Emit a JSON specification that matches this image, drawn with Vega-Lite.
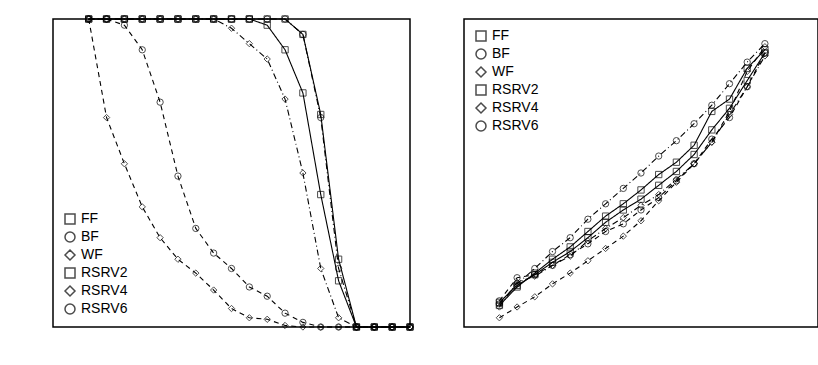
{
  "$schema": "https://vega.github.io/schema/vega-lite/v6.json",
  "padding": {"left": 52, "top": 13, "right": 0, "bottom": 45},
  "bounds": "flush",
  "spacing": 54,
  "config": {
    "view": {"stroke": "black", "strokeWidth": 1.5},
    "axis": {"grid": false, "domain": false, "labelFontSize": 14, "titleFontSize": 14, "titleFontWeight": "normal"},
    "legend": {"labelFontSize": 14}
  },
  "datasets": {
    "feas": [
      {"s":"FF","u":0.8,"v":1},{"s":"FF","u":1.2,"v":1},{"s":"FF","u":1.6,"v":1},{"s":"FF","u":2.0,"v":1},{"s":"FF","u":2.4,"v":1},{"s":"FF","u":2.8,"v":1},{"s":"FF","u":3.2,"v":1},{"s":"FF","u":3.6,"v":1},{"s":"FF","u":4.0,"v":1},{"s":"FF","u":4.4,"v":1},{"s":"FF","u":4.8,"v":1},{"s":"FF","u":5.2,"v":1},{"s":"FF","u":5.6,"v":0.95},{"s":"FF","u":6.0,"v":0.69},{"s":"FF","u":6.4,"v":0.22},{"s":"FF","u":6.8,"v":0},{"s":"FF","u":7.2,"v":0},{"s":"FF","u":7.6,"v":0},{"s":"FF","u":8.0,"v":0},
      {"s":"BF","u":0.8,"v":1},{"s":"BF","u":1.2,"v":1},{"s":"BF","u":1.6,"v":1},{"s":"BF","u":2.0,"v":1},{"s":"BF","u":2.4,"v":1},{"s":"BF","u":2.8,"v":1},{"s":"BF","u":3.2,"v":1},{"s":"BF","u":3.6,"v":1},{"s":"BF","u":4.0,"v":1},{"s":"BF","u":4.4,"v":1},{"s":"BF","u":4.8,"v":1},{"s":"BF","u":5.2,"v":1},{"s":"BF","u":5.6,"v":0.95},{"s":"BF","u":6.0,"v":0.68},{"s":"BF","u":6.4,"v":0.19},{"s":"BF","u":6.8,"v":0},{"s":"BF","u":7.2,"v":0},{"s":"BF","u":7.6,"v":0},{"s":"BF","u":8.0,"v":0},
      {"s":"WF","u":0.8,"v":1},{"s":"WF","u":1.2,"v":0.68},{"s":"WF","u":1.6,"v":0.53},{"s":"WF","u":2.0,"v":0.39},{"s":"WF","u":2.4,"v":0.29},{"s":"WF","u":2.8,"v":0.22},{"s":"WF","u":3.2,"v":0.175},{"s":"WF","u":3.6,"v":0.12},{"s":"WF","u":4.0,"v":0.06},{"s":"WF","u":4.4,"v":0.03},{"s":"WF","u":4.8,"v":0.025},{"s":"WF","u":5.2,"v":0.005},{"s":"WF","u":5.6,"v":0},{"s":"WF","u":6.0,"v":0},{"s":"WF","u":6.4,"v":0},{"s":"WF","u":6.8,"v":0},{"s":"WF","u":7.2,"v":0},{"s":"WF","u":7.6,"v":0},{"s":"WF","u":8.0,"v":0},
      {"s":"RSRV2","u":0.8,"v":1},{"s":"RSRV2","u":1.2,"v":1},{"s":"RSRV2","u":1.6,"v":1},{"s":"RSRV2","u":2.0,"v":1},{"s":"RSRV2","u":2.4,"v":1},{"s":"RSRV2","u":2.8,"v":1},{"s":"RSRV2","u":3.2,"v":1},{"s":"RSRV2","u":3.6,"v":1},{"s":"RSRV2","u":4.0,"v":1},{"s":"RSRV2","u":4.4,"v":1},{"s":"RSRV2","u":4.8,"v":0.98},{"s":"RSRV2","u":5.2,"v":0.9},{"s":"RSRV2","u":5.6,"v":0.76},{"s":"RSRV2","u":6.0,"v":0.43},{"s":"RSRV2","u":6.4,"v":0.15},{"s":"RSRV2","u":6.8,"v":0},{"s":"RSRV2","u":7.2,"v":0},{"s":"RSRV2","u":7.6,"v":0},{"s":"RSRV2","u":8.0,"v":0},
      {"s":"RSRV4","u":0.8,"v":1},{"s":"RSRV4","u":1.2,"v":1},{"s":"RSRV4","u":1.6,"v":1},{"s":"RSRV4","u":2.0,"v":1},{"s":"RSRV4","u":2.4,"v":1},{"s":"RSRV4","u":2.8,"v":1},{"s":"RSRV4","u":3.2,"v":1},{"s":"RSRV4","u":3.6,"v":1},{"s":"RSRV4","u":4.0,"v":0.97},{"s":"RSRV4","u":4.4,"v":0.92},{"s":"RSRV4","u":4.8,"v":0.87},{"s":"RSRV4","u":5.2,"v":0.74},{"s":"RSRV4","u":5.6,"v":0.5},{"s":"RSRV4","u":6.0,"v":0.19},{"s":"RSRV4","u":6.4,"v":0.03},{"s":"RSRV4","u":6.8,"v":0},{"s":"RSRV4","u":7.2,"v":0},{"s":"RSRV4","u":7.6,"v":0},{"s":"RSRV4","u":8.0,"v":0},
      {"s":"RSRV6","u":0.8,"v":1},{"s":"RSRV6","u":1.2,"v":1},{"s":"RSRV6","u":1.6,"v":0.98},{"s":"RSRV6","u":2.0,"v":0.9},{"s":"RSRV6","u":2.4,"v":0.73},{"s":"RSRV6","u":2.8,"v":0.49},{"s":"RSRV6","u":3.2,"v":0.32},{"s":"RSRV6","u":3.6,"v":0.24},{"s":"RSRV6","u":4.0,"v":0.19},{"s":"RSRV6","u":4.4,"v":0.13},{"s":"RSRV6","u":4.8,"v":0.1},{"s":"RSRV6","u":5.2,"v":0.045},{"s":"RSRV6","u":5.6,"v":0.015},{"s":"RSRV6","u":6.0,"v":0},{"s":"RSRV6","u":6.4,"v":0},{"s":"RSRV6","u":6.8,"v":0},{"s":"RSRV6","u":7.2,"v":0},{"s":"RSRV6","u":7.6,"v":0},{"s":"RSRV6","u":8.0,"v":0}
    ],
    "energy": [
      {"s":"BF","u":0.8,"v":0.75},{"s":"BF","u":1.2,"v":1.4},{"s":"BF","u":1.6,"v":1.9},{"s":"BF","u":2.0,"v":2.45},{"s":"BF","u":2.4,"v":2.9},{"s":"BF","u":2.8,"v":3.5},{"s":"BF","u":3.2,"v":4.0},{"s":"BF","u":3.6,"v":4.5},{"s":"BF","u":4.0,"v":5.0},{"s":"BF","u":4.4,"v":5.55},{"s":"BF","u":4.8,"v":6.05},{"s":"BF","u":5.2,"v":6.6},{"s":"BF","u":5.6,"v":7.2},{"s":"BF","u":6.0,"v":7.9},{"s":"BF","u":6.4,"v":8.6},{"s":"BF","u":6.8,"v":9.2},
      {"s":"FF","u":0.8,"v":0.7},{"s":"FF","u":1.2,"v":1.3},{"s":"FF","u":1.6,"v":1.75},{"s":"FF","u":2.0,"v":2.2},{"s":"FF","u":2.4,"v":2.6},{"s":"FF","u":2.8,"v":3.1},{"s":"FF","u":3.2,"v":3.6},{"s":"FF","u":3.6,"v":4.0},{"s":"FF","u":4.0,"v":4.45},{"s":"FF","u":4.4,"v":4.95},{"s":"FF","u":4.8,"v":5.35},{"s":"FF","u":5.2,"v":5.9},{"s":"FF","u":5.6,"v":7.0},{"s":"FF","u":6.0,"v":7.4},{"s":"FF","u":6.4,"v":8.4},{"s":"FF","u":6.8,"v":9.0},
      {"s":"RSRV2","u":0.8,"v":0.8},{"s":"RSRV2","u":1.2,"v":1.35},{"s":"RSRV2","u":1.6,"v":1.7},{"s":"RSRV2","u":2.0,"v":2.1},{"s":"RSRV2","u":2.4,"v":2.45},{"s":"RSRV2","u":2.8,"v":2.9},{"s":"RSRV2","u":3.2,"v":3.4},{"s":"RSRV2","u":3.6,"v":3.8},{"s":"RSRV2","u":4.0,"v":4.15},{"s":"RSRV2","u":4.4,"v":4.6},{"s":"RSRV2","u":4.8,"v":5.05},{"s":"RSRV2","u":5.2,"v":5.6},{"s":"RSRV2","u":5.6,"v":6.4},{"s":"RSRV2","u":6.0,"v":7.1},{"s":"RSRV2","u":6.4,"v":8.0},{"s":"RSRV2","u":6.8,"v":8.9},
      {"s":"RSRV4","u":0.8,"v":0.65},{"s":"RSRV4","u":1.2,"v":1.45},{"s":"RSRV4","u":1.6,"v":1.65},{"s":"RSRV4","u":2.0,"v":2.0},{"s":"RSRV4","u":2.4,"v":2.3},{"s":"RSRV4","u":2.8,"v":2.8},{"s":"RSRV4","u":3.2,"v":3.2},{"s":"RSRV4","u":3.6,"v":3.55},{"s":"RSRV4","u":4.0,"v":3.95},{"s":"RSRV4","u":4.4,"v":4.3},{"s":"RSRV4","u":4.8,"v":4.8},{"s":"RSRV4","u":5.2,"v":5.3},{"s":"RSRV4","u":5.6,"v":6.0},{"s":"RSRV4","u":6.0,"v":6.9},{"s":"RSRV4","u":6.4,"v":7.8},{"s":"RSRV4","u":6.8,"v":8.8},
      {"s":"RSRV6","u":0.8,"v":0.85},{"s":"RSRV6","u":1.2,"v":1.6},{"s":"RSRV6","u":1.6,"v":1.7},{"s":"RSRV6","u":2.0,"v":2.0},{"s":"RSRV6","u":2.4,"v":2.35},{"s":"RSRV6","u":2.8,"v":2.7},{"s":"RSRV6","u":3.2,"v":3.1},{"s":"RSRV6","u":3.6,"v":3.35},{"s":"RSRV6","u":4.0,"v":3.8},{"s":"RSRV6","u":4.4,"v":4.2},{"s":"RSRV6","u":4.8,"v":4.75},{"s":"RSRV6","u":5.2,"v":5.3},{"s":"RSRV6","u":5.6,"v":6.1},{"s":"RSRV6","u":6.0,"v":6.8},{"s":"RSRV6","u":6.4,"v":7.8},{"s":"RSRV6","u":6.8,"v":8.9},
      {"s":"WF","u":0.8,"v":0.3},{"s":"WF","u":1.2,"v":0.65},{"s":"WF","u":1.6,"v":0.98},{"s":"WF","u":2.0,"v":1.4},{"s":"WF","u":2.4,"v":1.75},{"s":"WF","u":2.8,"v":2.15},{"s":"WF","u":3.2,"v":2.55},{"s":"WF","u":3.6,"v":2.95},{"s":"WF","u":4.0,"v":3.45},{"s":"WF","u":4.4,"v":4.1},{"s":"WF","u":4.8,"v":4.7},{"s":"WF","u":5.2,"v":5.3},{"s":"WF","u":5.6,"v":6.0},{"s":"WF","u":6.0,"v":7.0},{"s":"WF","u":6.4,"v":8.3},{"s":"WF","u":6.8,"v":9.1}
    ]
  },
  "hconcat": [
    {
      "width": 357, "height": 308,
      "data": {"name": "feas"},
      "layer": [
        {
          "mark": {"type": "line", "strokeWidth": 1.1, "color": "black"},
          "encoding": {
            "x": {"field": "u", "type": "quantitative", "title": "Utilization", "scale": {"domain": [0, 8], "nice": false}, "axis": {"values": [0, 2, 4, 6, 8]}},
            "y": {"field": "v", "type": "quantitative", "title": "Feasibility", "scale": {"domain": [0, 1], "nice": false}, "axis": {"values": [0, 0.2, 0.4, 0.6, 0.8, 1]}},
            "strokeDash": {"field": "s", "type": "nominal", "scale": {"domain": ["FF","BF","WF","RSRV2","RSRV4","RSRV6"], "range": [[1,0],[6,3,1,3],[5,4],[1,0],[6,3,1,3],[5,4]]}, "legend": null}
          }
        },
        {
          "mark": {"type": "point", "filled": false, "color": "black", "strokeWidth": 1, "size": 40},
          "encoding": {
            "x": {"field": "u", "type": "quantitative", "axis": null},
            "y": {"field": "v", "type": "quantitative", "axis": null},
            "shape": {"field": "s", "type": "nominal", "title": null, "scale": {"domain": ["FF","BF","WF","RSRV2","RSRV4","RSRV6"], "range": ["square","circle","diamond","square","diamond","circle"]},
              "legend": {"orient": "bottom-left", "offset": 10}}
          }
        }
      ]
    },
    {
      "width": 354, "height": 308,
      "data": {"name": "energy"},
      "layer": [
        {
          "mark": {"type": "line", "strokeWidth": 1.1, "color": "black"},
          "encoding": {
            "x": {"field": "u", "type": "quantitative", "title": "Utilization", "scale": {"domain": [0, 8], "nice": false}, "axis": {"values": [0, 2, 4, 6, 8]}},
            "y": {"field": "v", "type": "quantitative", "title": "Energy", "scale": {"domain": [0, 10], "nice": false}, "axis": {"values": [0, 2, 4, 6, 8, 10]}},
            "strokeDash": {"field": "s", "type": "nominal", "scale": {"domain": ["FF","BF","WF","RSRV2","RSRV4","RSRV6"], "range": [[1,0],[6,3,1,3],[5,4],[1,0],[6,3,1,3],[5,4]]}, "legend": null}
          }
        },
        {
          "mark": {"type": "point", "filled": false, "color": "black", "strokeWidth": 1, "size": 40},
          "encoding": {
            "x": {"field": "u", "type": "quantitative", "axis": null},
            "y": {"field": "v", "type": "quantitative", "axis": null},
            "shape": {"field": "s", "type": "nominal", "title": null, "scale": {"domain": ["FF","BF","WF","RSRV2","RSRV4","RSRV6"], "range": ["square","circle","diamond","square","diamond","circle"]},
              "legend": {"orient": "top-left", "offset": 10}}
          }
        }
      ]
    }
  ]
}
